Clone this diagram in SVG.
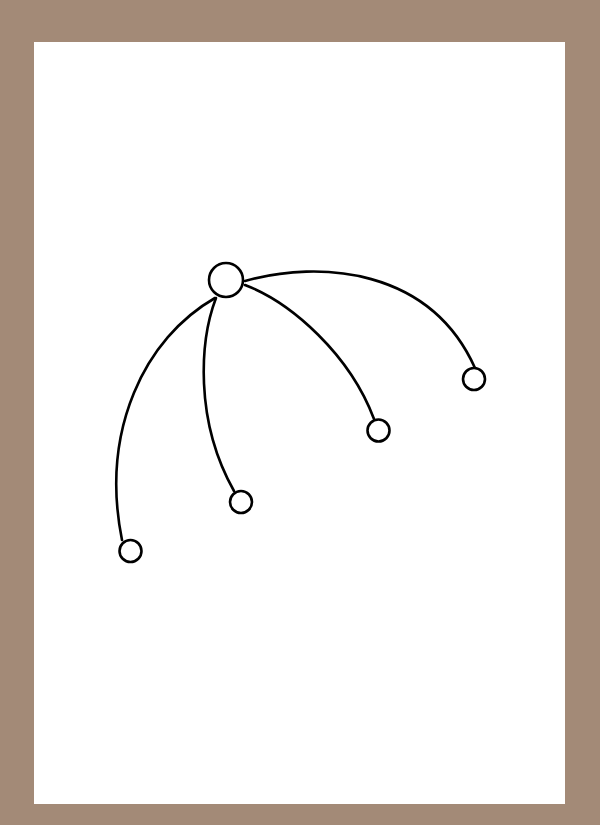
<svg xmlns="http://www.w3.org/2000/svg" width="600" height="825" viewBox="0 0 600 825">
<style>
.edge{fill:none;stroke:#000;stroke-width:2.6;stroke-linecap:round}
.node{fill:#fff;stroke:#000;stroke-width:2.6}
</style>
<rect x="0" y="0" width="600" height="825" fill="#a38a77"/>
<rect x="34" y="42" width="531" height="762" fill="#fff"/>
<g id="connectors">
<path class="edge" d="M215,298 C145,338 100,430 122,540"/>
<path class="edge" d="M216,298 C200,340 194,420 234,491"/>
<path class="edge" d="M245,285 C292,303 350,355 374,419"/>
<path class="edge" d="M245,281 C320,260 430,268 475,368"/>
</g>
<g id="root"><circle class="node" cx="226" cy="280" r="17"/></g>
<g id="n1"><circle class="node" cx="130.5" cy="551" r="11"/></g>
<g id="n2"><circle class="node" cx="241" cy="502" r="11"/></g>
<g id="n3"><circle class="node" cx="378.5" cy="430.5" r="11"/></g>
<g id="n4"><circle class="node" cx="474" cy="379" r="11"/></g>
</svg>
